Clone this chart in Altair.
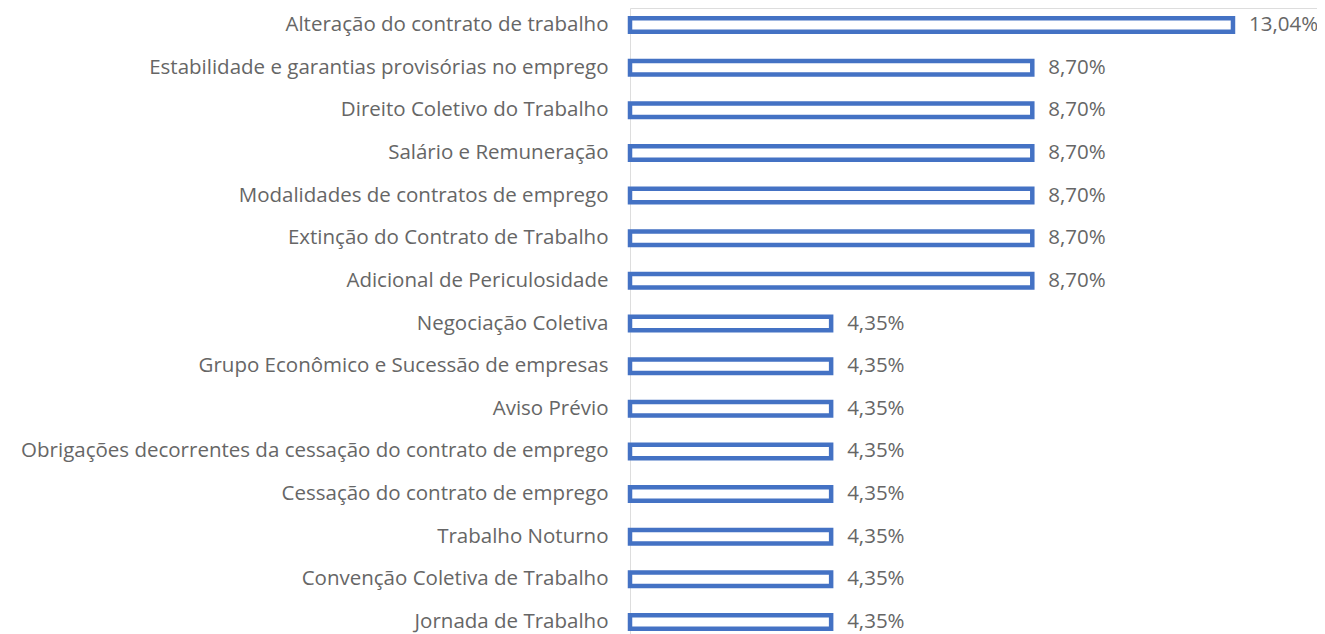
import altair as alt
import pandas as pd

categories = [
    "Alteração do contrato de trabalho",
    "Estabilidade e garantias provisórias no emprego",
    "Direito Coletivo do Trabalho",
    "Salário e Remuneração",
    "Modalidades de contratos de emprego",
    "Extinção do Contrato de Trabalho",
    "Adicional de Periculosidade",
    "Negociação Coletiva",
    "Grupo Econômico e Sucessão de empresas",
    "Aviso Prévio",
    "Obrigações decorrentes da cessação do contrato de emprego",
    "Cessação do contrato de emprego",
    "Trabalho Noturno",
    "Convenção Coletiva de Trabalho",
    "Jornada de Trabalho",
]
values = [13.04, 8.70, 8.70, 8.70, 8.70, 8.70, 8.70,
          4.35, 4.35, 4.35, 4.35, 4.35, 4.35, 4.35, 4.35]
labels = ["13,04%"] + ["8,70%"] * 6 + ["4,35%"] * 8

df = pd.DataFrame({"cat": categories, "val": values, "lab": labels})

FONT = "Open Sans"
GRAY = "#666666"
FS = 20.5

y = alt.Y("cat:N", sort=categories, title=None,
          scale=alt.Scale(paddingInner=0.6834, paddingOuter=0.2404),
          axis=alt.Axis(domain=False, ticks=False, labelPadding=22,
                        labelFont=FONT, labelFontSize=FS, labelColor=GRAY,
                        labelLimit=0))
x = alt.X("val:Q", title=None,
          scale=alt.Scale(domain=[0, 14.857], nice=False, zero=True),
          axis=None)

bars = alt.Chart(df).mark_bar(fill="white", stroke="#4472C4", strokeWidth=4.5,
                              cornerRadius=0).encode(x=x, y=y)
text = alt.Chart(df).mark_text(align="left", baseline="middle", dx=16,
                               font=FONT, fontSize=FS, color=GRAY).encode(
    x=x, y=y, text="lab:N")

chart = (bars + text).properties(
    width=687, height=631,
    autosize=alt.AutoSizeParams(type="none"),
    padding={"left": 622, "top": 0, "right": 0, "bottom": 0},
).configure_view(stroke=None).configure(background="white")

chart.save("out.html", embed_options={"renderer": "svg", "actions": False})
